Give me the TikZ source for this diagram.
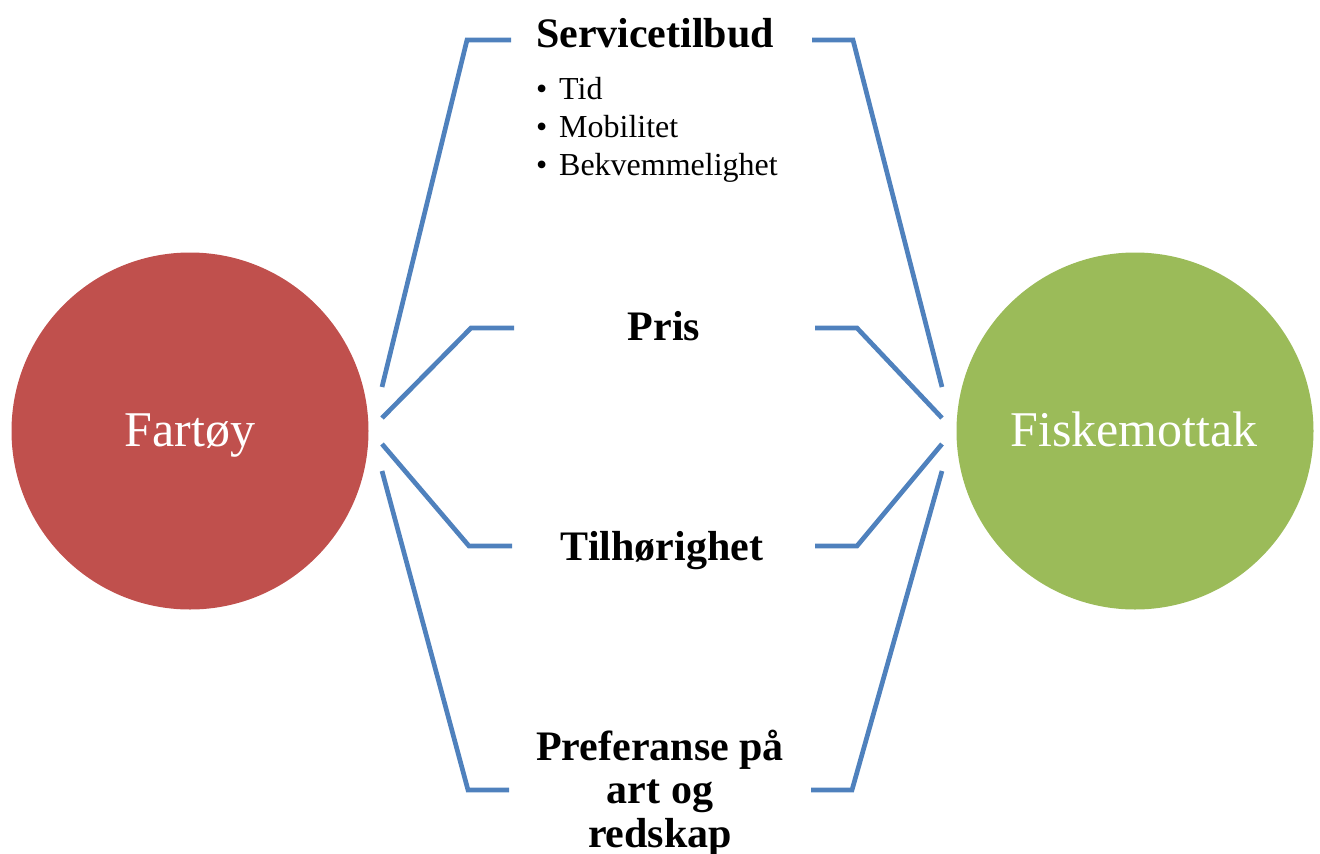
\documentclass[tikz,border=0pt]{standalone}
\usepackage{fontspec}
\setmainfont{Liberation Serif}
\definecolor{vesselred}{HTML}{C0504D}
\definecolor{plantgreen}{HTML}{9BBB59}
\definecolor{linkblue}{HTML}{4F81BD}
\begin{document}
\begin{tikzpicture}[x=1pt,y=-1pt,
  disc/.style={circle,draw=none,inner sep=0pt,minimum size=357pt},
  disclabel/.style={anchor=base,text=white,inner sep=0pt,font=\fontsize{50}{55}\selectfont},
  factor/.style={anchor=base,inner sep=0pt,font=\fontsize{42}{44}\selectfont\bfseries},
  item/.style={anchor=base west,inner sep=0pt,font=\fontsize{32}{38}\selectfont},
  link/.style={draw=linkblue,line width=4.7pt,line join=miter}]
\useasboundingbox (0,0) rectangle (1320,854);

% the two parties
\node[disc,fill=vesselred] (fartoy) at (190,431) {};
\node[disclabel] (fartoytxt) at (190,446) {Fartøy};
\node[disc,fill=plantgreen] (mottak) at (1135,431) {};
\node[disclabel] (mottaktxt) at (1134,446) {Fiskemottak};

% factor labels
\node[factor] (service) at (655,47) {Servicetilbud};
\node[item] (tid) at (536,99) {\makebox[23pt][l]{•}Tid};
\node[item] (mob) at (536,137) {\makebox[23pt][l]{•}Mobilitet};
\node[item] (bekv) at (536,175) {\makebox[23pt][l]{•}Bekvemmelighet};
\node[factor] (pris) at (664,340) {Pris};
\node[factor] (tilh) at (662,560) {Tilhørighet};
\node[factor] (pref1) at (660,760) {Preferanse på};
\node[factor] (pref2) at (660,803) {art og};
\node[factor] (pref3) at (660,847) {redskap};

% bracket end points beside each party
\coordinate (fA) at (382,387);
\coordinate (fB) at (382,418);
\coordinate (fC) at (382,444);
\coordinate (fD) at (382,471);
\coordinate (mA) at (942,387);
\coordinate (mB) at (942,418);
\coordinate (mC) at (942,444);
\coordinate (mD) at (942,471);

% bracket ends next to the labels
\coordinate (sL) at (511,40);  \coordinate (sR) at (812,40);
\coordinate (pL) at (514,328); \coordinate (pR) at (815,328);
\coordinate (tL) at (512,546); \coordinate (tR) at (815,546);
\coordinate (rL) at (509,790); \coordinate (rR) at (811,790);

% connectors
\draw[link] (fA) -- (467,40) -- (sL);
\draw[link] (sR) -- (853,40) -- (mA);
\draw[link] (fB) -- (471,328) -- (pL);
\draw[link] (pR) -- (857,328) -- (mB);
\draw[link] (fC) -- (469,546) -- (tL);
\draw[link] (tR) -- (857,546) -- (mC);
\draw[link] (fD) -- (468,790) -- (rL);
\draw[link] (rR) -- (852,790) -- (mD);
\end{tikzpicture}
\end{document}
